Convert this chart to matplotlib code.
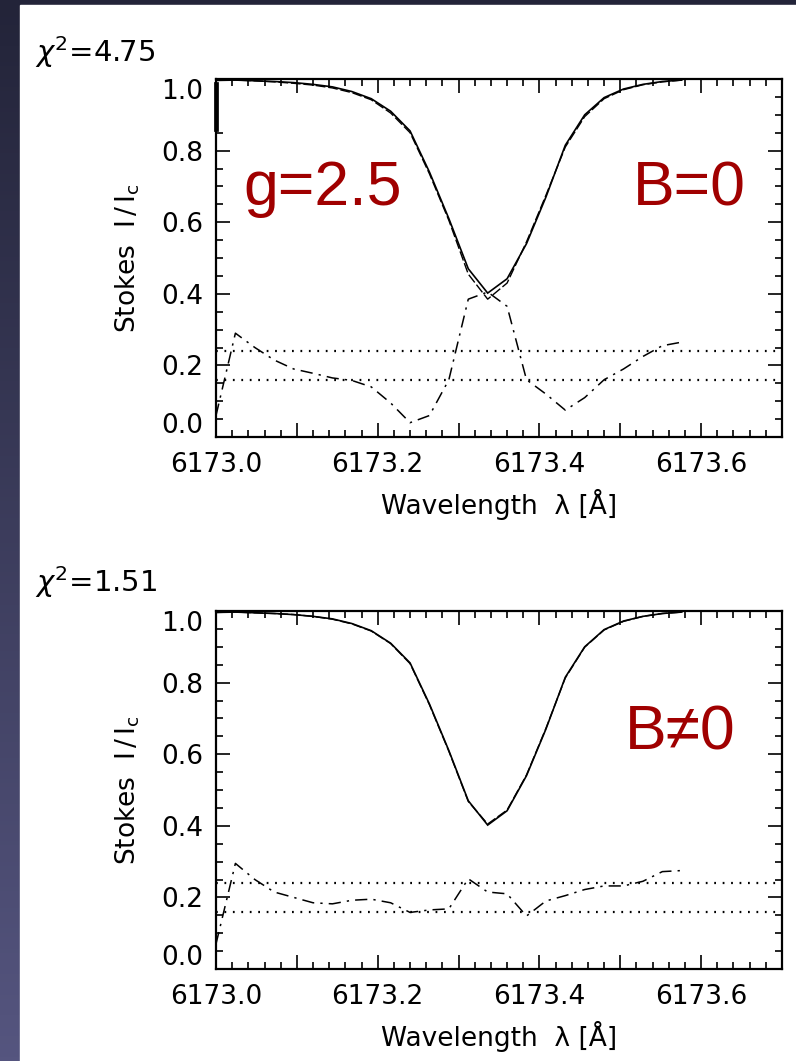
import numpy as np
import matplotlib
matplotlib.use('Agg')
import matplotlib.pyplot as plt
from matplotlib.colors import LinearSegmentedColormap
from matplotlib.patches import Rectangle
from matplotlib.ticker import MultipleLocator

# longitudes de onda muestreadas (Å)
wl = [6173.000, 6173.024, 6173.048, 6173.072, 6173.096, 6173.120, 6173.144,
      6173.168, 6173.192, 6173.216, 6173.240, 6173.264, 6173.288, 6173.312,
      6173.336, 6173.360, 6173.384, 6173.408, 6173.432, 6173.456, 6173.480,
      6173.504, 6173.528, 6173.552, 6173.576]

# perfil observado I/Ic
obs = [0.996, 0.997, 0.995, 0.993, 0.990, 0.985, 0.978, 0.965, 0.945, 0.910,
       0.855, 0.740, 0.610, 0.470, 0.402, 0.442, 0.540, 0.670, 0.815, 0.900,
       0.948, 0.972, 0.985, 0.993, 0.997]

# ajuste con B=0
fit_b0 = [0.997, 0.997, 0.995, 0.992, 0.988, 0.983, 0.975, 0.962, 0.942, 0.905,
          0.850, 0.735, 0.605, 0.455, 0.385, 0.430, 0.545, 0.675, 0.810, 0.895,
          0.945, 0.970, 0.984, 0.992, 0.997]

# ajuste con B!=0
fit_b = [0.996, 0.997, 0.995, 0.993, 0.990, 0.985, 0.977, 0.964, 0.944, 0.909,
         0.853, 0.738, 0.608, 0.468, 0.405, 0.444, 0.542, 0.672, 0.813, 0.899,
         0.947, 0.971, 0.985, 0.993, 0.997]

# residuos (desplazados)
res_b0 = [0.060, 0.290, 0.250, 0.215, 0.190, 0.178, 0.165, 0.158, 0.140, 0.095,
          0.040, 0.060, 0.160, 0.385, 0.405, 0.365, 0.160, 0.120, 0.075, 0.110,
          0.160, 0.190, 0.225, 0.255, 0.265]
res_b = [0.070, 0.295, 0.250, 0.215, 0.200, 0.185, 0.182, 0.192, 0.195, 0.185,
         0.158, 0.165, 0.168, 0.252, 0.215, 0.210, 0.148, 0.190, 0.205, 0.222,
         0.232, 0.232, 0.245, 0.272, 0.275]

# bandas de ruido
noise_hi = 0.24
noise_lo = 0.16

chi2 = ['4.75', '1.51']
etiquetas = [['g=2.5', 'B=0'], ['B\u22600']]

plt.rcParams['font.family'] = ['DejaVu Sans']
plt.rcParams['mathtext.fontset'] = 'dejavusans'

fig = plt.figure(figsize=(7.96, 10.61), dpi=100)

# fondo de la diapositiva
bg = fig.add_axes([0, 0, 1, 1], zorder=-10)
bg.axis('off')
cmap = LinearSegmentedColormap.from_list('slide', ['#232439', '#55557f'])
bg.imshow(np.linspace(0, 1, 256).reshape(-1, 1), aspect='auto', cmap=cmap,
          extent=[0, 1, 0, 1], origin='upper')
bg.add_patch(Rectangle((20 / 796, 0), 1, (1061 - 5) / 1061,
                       transform=bg.transAxes, color='white', zorder=2))
bg.set_xlim(0, 1)
bg.set_ylim(0, 1)

W, H = 796, 1061
posiciones = [(216, 437), (216, 969)]
fits = [fit_b0, fit_b]
residuos = [res_b0, res_b]
chi_y = [62, 592]
fs = 19

for k in range(2):
    x0, ybot = posiciones[k]
    ax = fig.add_axes([x0 / W, 1 - ybot / H, 566 / W, 358 / H])

    ax.plot(wl, obs, color='black', lw=1.2, solid_joinstyle='miter')
    ax.plot(wl, fits[k], color='black', lw=1.0, linestyle=(0, (7, 2)))
    ax.plot(wl, residuos[k], color='black', lw=1.1, linestyle=(0, (8, 4, 1.5, 4)))
    ax.axhline(noise_hi, color='black', lw=1.6, linestyle=(0, (0.8, 3.0)))
    ax.axhline(noise_lo, color='black', lw=1.6, linestyle=(0, (0.8, 3.0)))

    ax.set_xlim(6173.0, 6173.70)
    ax.set_ylim(0, 1.0)

    xt = [6173.0, 6173.1, 6173.2, 6173.3, 6173.4, 6173.5, 6173.6, 6173.7]
    ax.set_xticks(xt)
    ax.set_xticklabels(['6173.0', '', '6173.2', '', '6173.4', '', '6173.6', ''])
    ax.xaxis.set_minor_locator(MultipleLocator(0.02))
    ax.set_yticks([0, 0.2, 0.4, 0.6, 0.8, 1.0])
    ax.set_yticklabels(['', '0.2', '0.4', '0.6', '0.8', ''])
    ax.yaxis.set_minor_locator(MultipleLocator(0.05))

    ax.tick_params(which='both', direction='in', top=True, right=True,
                   width=1.2, labelsize=fs)
    ax.tick_params(which='major', length=10)
    ax.tick_params(which='minor', length=5)
    ax.tick_params(axis='y', pad=9)
    ax.tick_params(axis='x', pad=11)
    for s in ax.spines.values():
        s.set_linewidth(1.6)

    # etiquetas extremas desplazadas hacia dentro
    ax.text(-0.023, 0.964, '1.0', transform=ax.transAxes, ha='right',
            va='center', fontsize=fs)
    ax.text(-0.023, 0.031, '0.0', transform=ax.transAxes, ha='right',
            va='center', fontsize=fs)

    ax.set_xlabel('Wavelength  \u03bb [\u00c5]', fontsize=fs)
    ax.set_ylabel('Stokes  I$\\,$/$\\,$I$_{\\rm c}$', fontsize=fs)
    ax.xaxis.set_label_coords(0.5, -0.145)
    ax.yaxis.set_label_coords(-0.13, 0.5)

    fig.text(35 / W, 1 - chi_y[k] / H, '$\\chi^{2}$=' + chi2[k], fontsize=21,
             va='baseline', ha='left')

    if k == 0:
        ax.text(0.048, 0.648, etiquetas[0][0], transform=ax.transAxes,
                color='#a00000', fontsize=45, family='Liberation Sans')
        ax.text(0.737, 0.648, etiquetas[0][1], transform=ax.transAxes,
                color='#a00000', fontsize=45, family='Liberation Sans')
    else:
        ax.text(0.723, 0.612, etiquetas[1][0], transform=ax.transAxes,
                color='#a00000', fontsize=45,
                family=['Liberation Sans', 'DejaVu Sans'])

# marca espuria junto a 1.0 del panel superior
fig.add_artist(Rectangle((218 / W, 1 - 130 / H), 15 / W, 35 / H,
                         transform=fig.transFigure, facecolor='white',
                         edgecolor='none', zorder=19))
fig.add_artist(plt.Line2D([216 / W, 216 / W], [1 - 84 / H, 1 - 129 / H],
                          color='black', lw=3.4, zorder=20))

fig.savefig('out.png', dpi=100)
